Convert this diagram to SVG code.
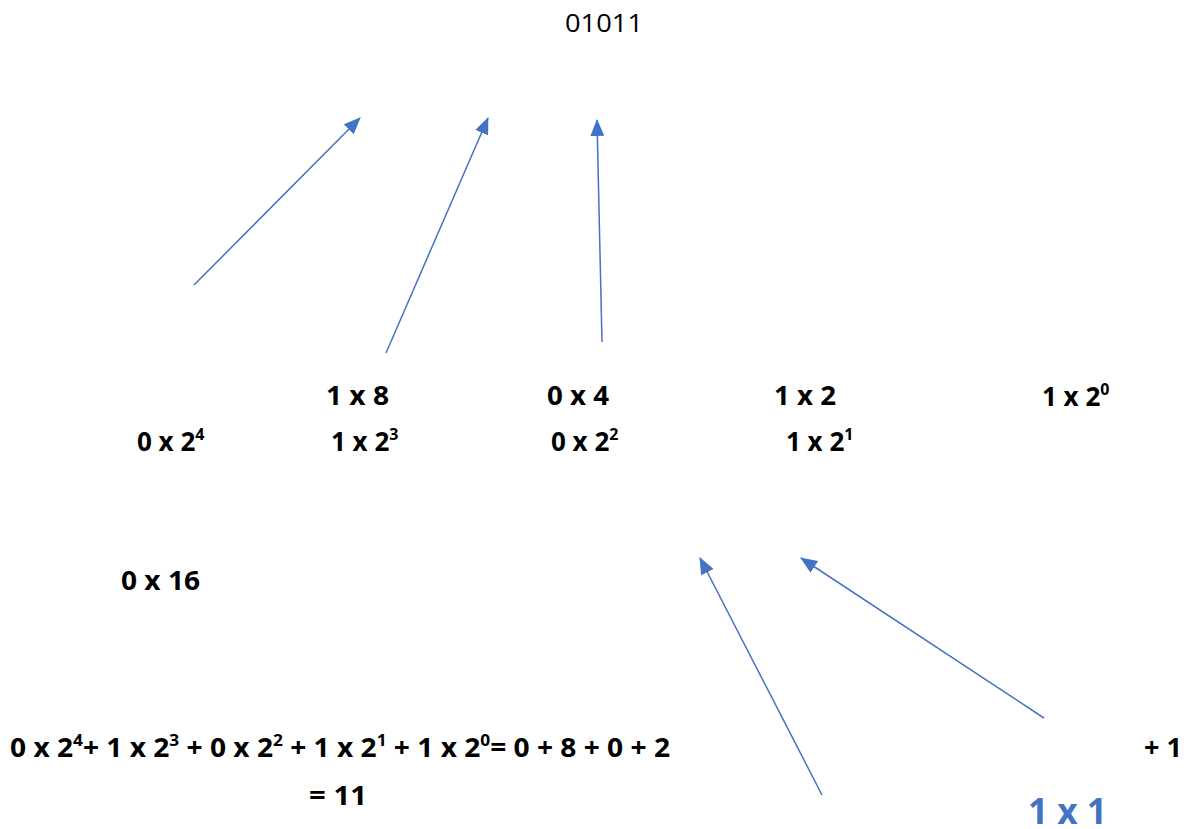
<svg xmlns="http://www.w3.org/2000/svg" width="1192" height="829" viewBox="0 0 1192 829">
<style>
.t{font-family:"Open Sans","Liberation Sans",sans-serif;font-weight:bold;font-size:26px;fill:#000}
.s{font-size:16px}
.r{font-family:"Open Sans","Liberation Sans",sans-serif;font-size:25px;fill:#000}
.b{fill:#4472C4;font-size:36px}
.c line{stroke:#4472C4;stroke-width:1.5;fill:none}
</style>
<defs>
<marker id="ah" markerUnits="userSpaceOnUse" markerWidth="18" markerHeight="14" refX="16" refY="7" orient="auto">
<path d="M0,0 L17,7 L0,14 Z" fill="#4472C4"/>
</marker>
</defs>
<rect width="1192" height="829" fill="#fff"/>
<g id="binary"><text class="r" x="565" y="32" textLength="78" lengthAdjust="spacingAndGlyphs">01011</text></g>
<g id="row1">
<text class="t" x="326" y="405" textLength="63" lengthAdjust="spacingAndGlyphs">1 x 8</text>
<text class="t" x="547" y="405" textLength="62" lengthAdjust="spacingAndGlyphs">0 x 4</text>
<text class="t" x="774" y="405" textLength="62" lengthAdjust="spacingAndGlyphs">1 x 2</text>
<text class="t" x="1042" y="406">1 x 2<tspan class="s" dy="-11">0</tspan></text>
</g>
<g id="row2">
<text class="t" x="137" y="451">0 x 2<tspan class="s" dy="-11">4</tspan></text>
<text class="t" x="331" y="451">1 x 2<tspan class="s" dy="-11">3</tspan></text>
<text class="t" x="551" y="451">0 x 2<tspan class="s" dy="-11">2</tspan></text>
<text class="t" x="786" y="451">1 x 2<tspan class="s" dy="-11">1</tspan></text>
</g>
<g id="n16"><text class="t" x="121" y="590" textLength="79" lengthAdjust="spacingAndGlyphs">0 x 16</text></g>
<g id="equation">
<text class="t" x="10" y="757" textLength="660" lengthAdjust="spacingAndGlyphs">0 x 2<tspan class="s" dy="-11">4</tspan><tspan dy="11">+ 1 x 2</tspan><tspan class="s" dy="-11">3</tspan><tspan dy="11"> + 0 x 2</tspan><tspan class="s" dy="-11">2</tspan><tspan dy="11"> + 1 x 2</tspan><tspan class="s" dy="-11">1</tspan><tspan dy="11"> + 1 x 2</tspan><tspan class="s" dy="-11">0</tspan><tspan dy="11">= 0 + 8 + 0 + 2</tspan></text>
<text class="t" x="309" y="805" textLength="58" lengthAdjust="spacingAndGlyphs">= 11</text>
</g>
<g id="plus1"><text class="t" x="1144" y="757" textLength="38" lengthAdjust="spacingAndGlyphs">+ 1</text></g>
<g id="onexone"><text class="t b" x="1028" y="824" textLength="79" lengthAdjust="spacingAndGlyphs">1 x 1</text></g>
<g id="connectors" class="c">
<line x1="194" y1="285" x2="360" y2="118" marker-end="url(#ah)"/>
<line x1="386" y1="353" x2="488" y2="118" marker-end="url(#ah)"/>
<line x1="602" y1="342" x2="597" y2="120" marker-end="url(#ah)"/>
<line x1="822" y1="795" x2="700" y2="558" marker-end="url(#ah)"/>
<line x1="1044" y1="718" x2="801" y2="558" marker-end="url(#ah)"/>
</g>
</svg>
